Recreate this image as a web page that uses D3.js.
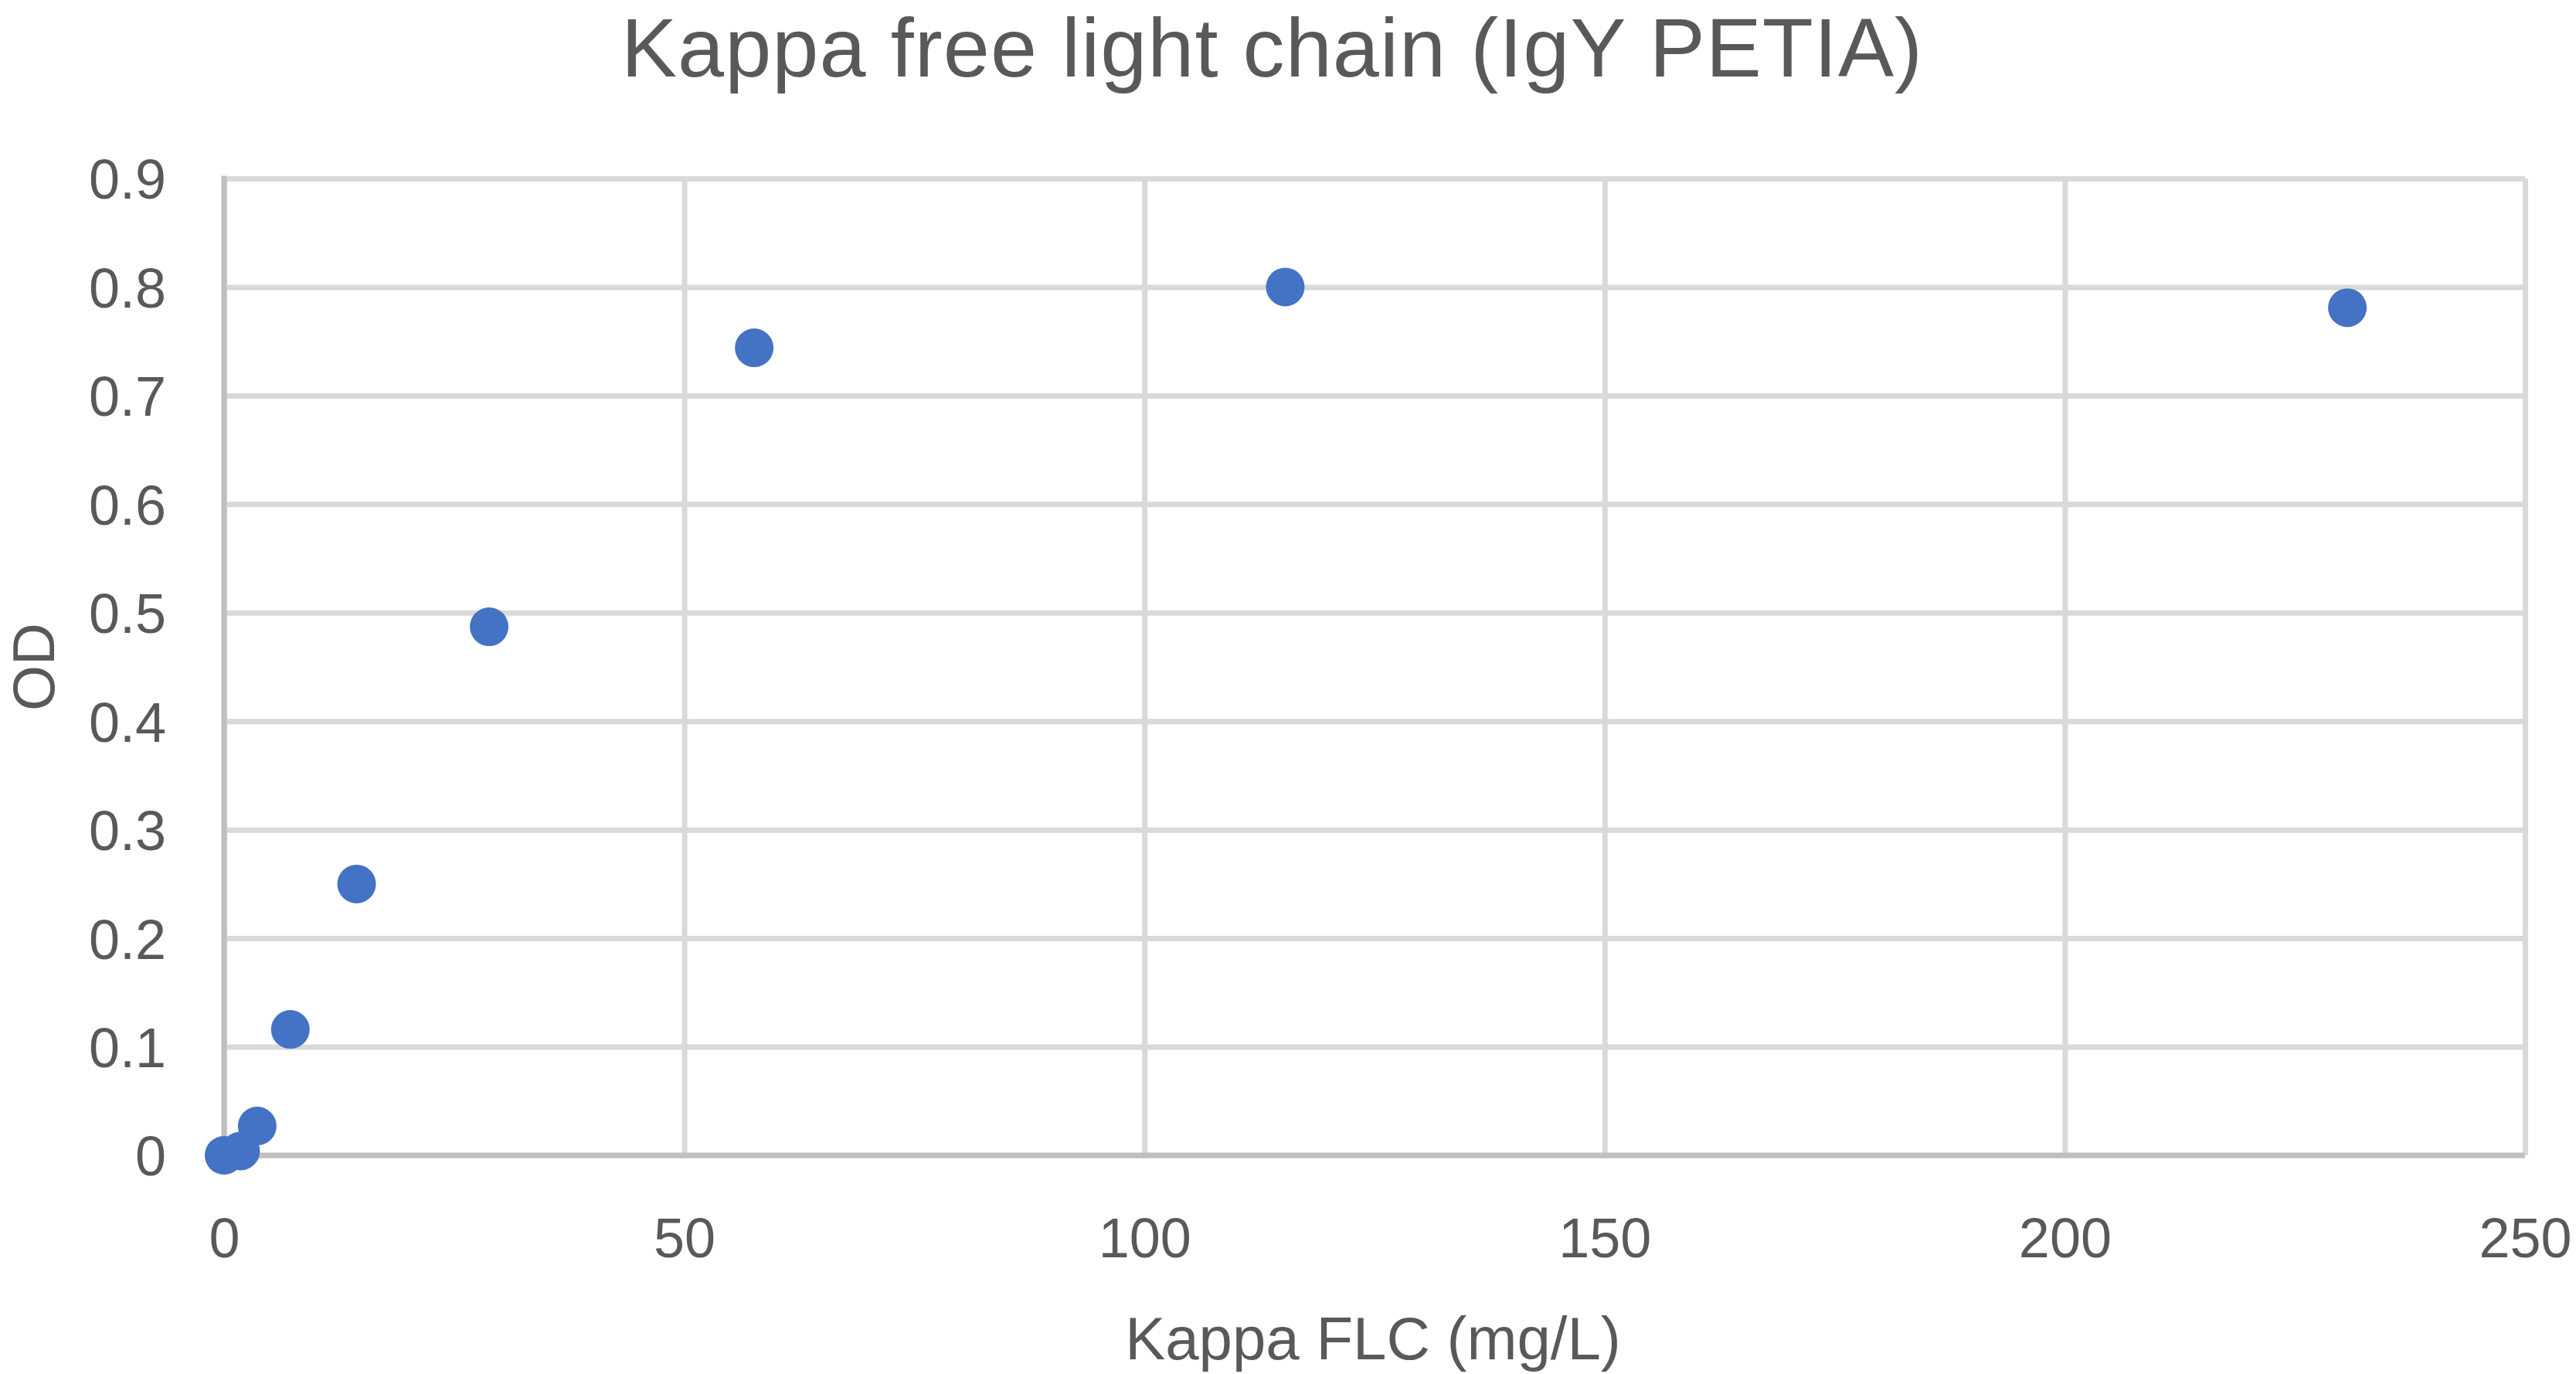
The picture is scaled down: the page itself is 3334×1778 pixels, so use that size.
<!DOCTYPE html>
<html>
<head>
<meta charset="utf-8">
<script src="https://cdn.jsdelivr.net/npm/d3@7"></script>
<style>
  body { margin: 0; background: #fff; }
  svg { display: block; font-family: "Liberation Sans", Arial, sans-serif; }
</style>
</head>
<body>
<svg id="chart" width="3334" height="1778"></svg>
<script>
// data
var chartTitle = "Kappa free light chain (IgY PETIA)";
var xTitle = "Kappa FLC (mg/L)";
var yTitle = "OD";
var kappaFlc = [0, 1.8, 3.6, 7.2, 14.4, 28.8, 57.6, 115.3, 230.7];
var odValues = [0, 0.004, 0.027, 0.116, 0.250, 0.487, 0.744, 0.800, 0.781];
var xTicks = [0, 50, 100, 150, 200, 250];
var yTicks = [0, 0.1, 0.2, 0.3, 0.4, 0.5, 0.6, 0.7, 0.8, 0.9];

var textColor = "#595959";
var gridColor = "#d9d9d9";
var axisColor = "#bfbfbf";
var dotColor = "#4472c4";

var margin = {left: 290, top: 231, right: 66, bottom: 283};
var W = 3334, H = 1778;
var w = W - margin.left - margin.right;
var h = H - margin.top - margin.bottom;

var svg = d3.select('#chart');
var g = svg.append('g')
  .attr('transform', 'translate(' + margin.left + ',' + margin.top + ')');

var x = d3.scaleLinear().domain([0, 250]).range([0, w]);
var y = d3.scaleLinear().domain([0, 0.9]).range([h, 0]);

// x axis + vertical gridlines
var gx = g.append('g')
  .attr('transform', 'translate(0,' + h + ')')
  .call(d3.axisBottom(x).tickValues(xTicks).tickFormat(d3.format('d'))
    .tickSizeInner(-h).tickSizeOuter(0).tickPadding(81));

// y axis + horizontal gridlines
var gy = g.append('g')
  .call(d3.axisLeft(y).tickValues(yTicks).tickFormat(function(d){ return d === 0 ? '0' : d3.format('.1f')(d); })
    .tickSizeInner(-w).tickSizeOuter(0).tickPadding(75));

[gx, gy].forEach(function(a){
  a.select('.domain').remove();
  a.selectAll('line').style('stroke', gridColor).style('stroke-width', 7);
  a.selectAll('text')
    .style('font-size', '72px')
    .style('fill', textColor)
    .style('font-family', '"Liberation Sans", Arial, sans-serif');
});
gy.selectAll('text').attr('dy', '0.36em');

// axis lines (darker)
g.append('line')
  .attr('x1', x(0)).attr('x2', x(0))
  .attr('y1', y(0.9) - 3.5).attr('y2', y(0) + 3.5)
  .style('stroke', axisColor).style('stroke-width', 7);
g.append('line')
  .attr('x1', x(0) - 3.5).attr('x2', x(250))
  .attr('y1', y(0)).attr('y2', y(0))
  .style('stroke', axisColor).style('stroke-width', 7);

// points
g.selectAll('.dot')
  .data(kappaFlc)
  .enter()
  .append('circle')
  .attr('class', 'dot')
  .attr('cx', function(d){ return x(d); })
  .attr('cy', function(d, i){ return y(odValues[i]); })
  .attr('r', 25)
  .style('fill', dotColor);

// titles
svg.append('text')
  .text(chartTitle)
  .attr('x', 1646)
  .attr('y', 99)
  .attr('text-anchor', 'middle')
  .attr('textLength', 1684)
  .attr('lengthAdjust', 'spacing')
  .style('font-size', '108px')
  .style('fill', textColor);

svg.append('text')
  .text(xTitle)
  .attr('x', 1777)
  .attr('y', 1759)
  .attr('text-anchor', 'middle')
  .style('font-size', '78px')
  .style('fill', textColor);

svg.append('text')
  .text(yTitle)
  .attr('transform', 'translate(70,' + (margin.top + h / 2) + ') rotate(-90)')
  .attr('text-anchor', 'middle')
  .style('font-size', '76px')
  .style('fill', textColor);
</script>
</body>
</html>
